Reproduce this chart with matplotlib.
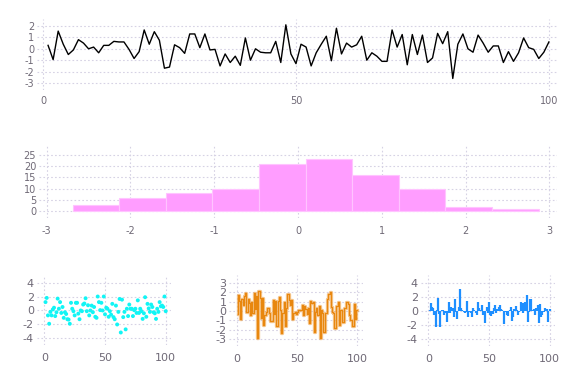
import matplotlib
matplotlib.use('Agg')
import matplotlib.pyplot as plt
import numpy as np

plt.rcParams['axes.unicode_minus'] = False

# top line series (x = 1..100)
line_y = [0.3, -0.95, 1.55, 0.4, -0.5, -0.1, 0.8, 0.5, 0.0, 0.15,
          -0.35, 0.3, 0.3, 0.65, 0.6, 0.6, -0.05, -0.85, -0.25, 1.65,
          0.4, 1.5, 0.75, -1.7, -1.6, 0.35, 0.1, -0.4, 1.3, 1.3,
          0.1, 1.3, -0.1, -0.05, -1.5, -0.45, -1.2, -0.65, -1.45, 0.95,
          -1.0, 0.0, -0.3, -0.35, -0.35, 0.65, -1.2, 2.1, -0.45, -1.3,
          0.4, 0.15, -1.5, -0.35, 0.4, 1.1, -1.05, 1.8, -0.45, 0.5,
          0.15, 0.35, 1.1, -1.0, -0.35, -0.65, -1.1, -1.1, 1.65, 0.15,
          1.25, -1.4, 1.25, -0.5, 1.2, -1.2, -0.8, 1.35, 0.45, 1.5,
          -2.6, 0.4, 1.3, 0.0, -0.3, 1.2, 0.5, -0.3, 0.25, 0.25,
          -1.2, -0.25, -1.1, -0.35, 0.95, 0.1, -0.05, -0.85, -0.3, 0.6]

# histogram
hist_edges = [-2.69, -2.134, -1.578, -1.022, -0.466, 0.09, 0.646, 1.202, 1.758, 2.314, 2.87]
hist_counts = [3, 6, 8, 10, 21, 23, 16, 10, 2, 1]

# bottom left scatter
scatter_y = [1.2, 1.8, -0.7, -1.9, -0.2, -0.7, 0.15, 0.4, -0.8, -0.25,
             1.7, 0.25, 1.2, -0.35, 0.5, -1.05, -0.25, -0.5, -1.25, -1.3,
             -1.9, 1.1, 0.25, -0.1, -0.7, 1.1, 1.1, -0.45, -1.25, 0.0,
             -0.1, 0.85, 1.0, 1.75, -0.1, 0.75, -0.7, 0.0, 0.7, -0.25,
             0.5, -0.9, -1.05, 2.0, 1.2, 0.05, 1.1, 0.0, 2.0, -0.55,
             0.4, 0.25, -0.9, -0.1, -0.6, 0.95, -0.95, -1.25, 0.7, -2.0,
             -0.2, 1.65, -3.15, 1.55, -0.95, -0.2, -2.7, 0.25, -0.8, 0.85,
             0.25, 0.25, -0.8, 0.05, 0.25, -0.35, 1.45, -0.35, 0.25, -0.1,
             -1.2, -0.4, 1.9, -0.9, 0.95, 0.3, -0.2, 0.85, 0.5, -0.25,
             -0.4, -1.2, 0.25, -0.2, 1.2, 0.6, 0.7, 0.5, 2.0, -0.1]

# bottom middle steps
step_y = [-0.3, 1.65, 1.1, -0.8, 1.3, 0.6, 1.6, 1.95, -0.1, 1.25,
          0.8, -0.4, 0.9, -0.25, 1.95, 0.2, 1.6, -2.9, 2.15, 1.4,
          -0.7, 1.4, -1.5, -0.4, -0.1, 0.35, 0.3, -0.2, -1.05, -1.05,
          1.15, -0.35, 1.1, -1.6, 1.1, 1.5, 0.15, -2.3, -0.25, 1.0,
          -1.6, 0.3, 1.75, 1.15, 0.6, 1.15, -0.8, -0.25, -0.15, -0.3,
          -0.15, 0.1, 0.15, 0.15, 0.65, -0.4, 0.55, 0.2, -0.3, 0.3,
          -1.3, 1.1, 0.8, 1.0, -2.2, -0.15, 0.3, -0.4, 0.55, -2.9,
          0.1, -0.2, -2.2, -0.2, -0.2, 1.25, 1.75, 2.0, 0.4, -0.1,
          -0.25, -1.8, 0.55, 0.55, 1.0, -1.5, 0.15, -1.15, -1.15, 0.35,
          0.3, 0.9, 0.75, -0.4, -0.95, -0.95, -1.6, 0.7, -0.9, 0.1]

# bottom right sticks
stick_y = [0.2, 1.15, 0.6, 0.4, -0.55, -2.2, 0.2, 1.9, -0.45, -2.2,
           0.15, 0.15, -0.55, -0.3, -1.5, -0.25, 1.3, -0.3, 0.6, 0.45,
           -0.8, 1.65, -0.1, -1.2, 0.5, 3.05, 0.4, 0.15, -0.1, -0.25,
           -0.1, 1.45, -0.85, -0.1, -0.25, -0.85, 0.4, 0.15, -0.35, -0.55,
           1.3, 0.4, 0.15, 0.85, -0.55, -0.3, -1.75, 0.6, -0.3, 1.2,
           -0.55, -0.7, -0.4, 0.4, 0.85, -0.3, 0.35, 0.6, 0.85, 0.25,
           0.15, -1.85, 0.05, -0.1, -0.55, -0.7, 0.15, 0.6, -1.35, -0.9,
           0.25, 0.7, 0.15, -0.55, -0.1, 1.2, 1.1, -0.25, 1.1, 1.2,
           2.25, -1.5, -0.1, 1.65, 1.65, 0.15, 0.35, -0.55, 0.4, 0.85,
           -1.75, 0.95, -0.9, -0.6, -0.1, 0.45, 0.35, 0.25, -1.5, 0.3]

W, H = 576, 384
txt = '#6f6976'
gridc = '#d6d2e4'


def box(ax_left, ax_right, ax_top, ax_bottom):
    return [ax_left / W, 1 - ax_bottom / H, (ax_right - ax_left) / W, (ax_bottom - ax_top) / H]


def style(ax, fs, xpad):
    for s in ax.spines.values():
        s.set_visible(False)
    ax.grid(True, linestyle=(0, (1.5, 2)), color=gridc, linewidth=0.8)
    ax.set_axisbelow(True)
    ax.tick_params(length=0, colors=txt, labelsize=fs)
    ax.tick_params(axis='x', pad=xpad)
    ax.tick_params(axis='y', pad=2)


fig = plt.figure(figsize=(W / 100, H / 100), dpi=100)

# top line
ax1 = fig.add_axes(box(37, 557, 19, 90))
x = np.arange(1, len(line_y) + 1)
ax1.plot(x, line_y, color='black', linewidth=1)
ax1.set_xlim(-1.19, 101.6)
ax1.set_ylim(-3.61, 2.61)
ax1.set_xticks([0, 50, 100])
ax1.set_yticks([-3, -2, -1, 0, 1, 2])
style(ax1, 7, 4)

# histogram
ax2 = fig.add_axes(box(39, 557, 146, 218))
ax2.bar(hist_edges[:-1], hist_counts, width=np.diff(hist_edges), align='edge',
        color='#ff9dff', edgecolor='#ffc4ff', linewidth=0.8)
ax2.set_xlim(-3.09, 3.09)
ax2.set_ylim(-2.95, 28.8)
ax2.set_xticks([-3, -2, -1, 0, 1, 2, 3])
ax2.set_yticks([0, 5, 10, 15, 20, 25])
style(ax2, 7, 6)

# scatter
ax3 = fig.add_axes(box(36.7, 170.7, 275, 345))
xs = np.arange(1, len(scatter_y) + 1)
ax3.scatter(xs, scatter_y, s=8, color='#11f5f5', edgecolors='none')
ax3.set_xlim(-6.26, 104.1)
ax3.set_ylim(-4.94, 5.08)
ax3.set_xticks([0, 50, 100])
ax3.set_yticks([-4, -2, 0, 2, 4])
style(ax3, 8, 6)

# steps
ax4 = fig.add_axes(box(229.3, 363.3, 275, 346))
xst = np.arange(1, len(step_y) + 1)
ax4.step(xst, step_y, where='pre', color='#f0a040', linewidth=2.4, alpha=0.6)
ax4.step(xst, step_y, where='pre', color='#e8870f', linewidth=0.9)
ax4.set_xlim(-6.1, 105)
ax4.set_ylim(-3.7, 3.8)
ax4.set_xticks([0, 50, 100])
ax4.set_yticks([-3, -2, -1, 0, 1, 2, 3])
style(ax4, 8, 6)

# sticks
ax5 = fig.add_axes(box(420.7, 555, 275, 346))
xk = np.arange(1, len(stick_y) + 1)
ax5.vlines(xk, 0, stick_y, color='#1e8fff', linewidth=1.6)
ax5.set_xlim(-6.3, 104.4)
ax5.set_ylim(-4.94, 5.08)
ax5.set_xticks([0, 50, 100])
ax5.set_yticks([-4, -2, 0, 2, 4])
style(ax5, 8, 6)

fig.savefig('out.png', dpi=100, facecolor='white')
